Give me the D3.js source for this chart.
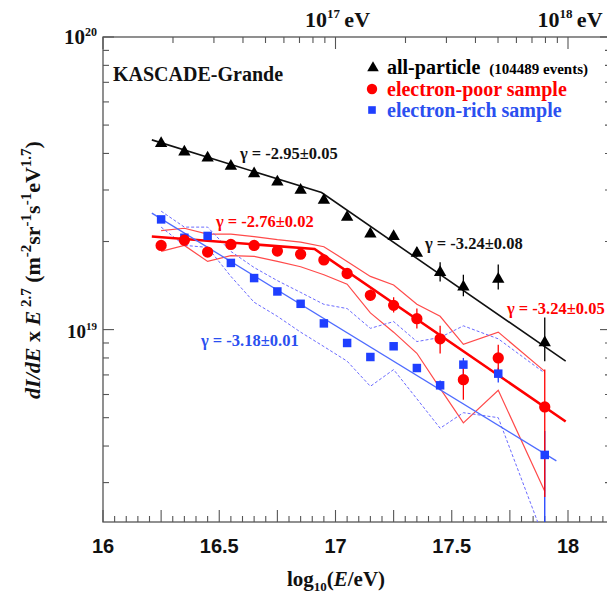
<!DOCTYPE html>
<html><head><meta charset="utf-8">
<script src="https://cdn.jsdelivr.net/npm/d3@7"></script>
<style>body{margin:0;background:#fff;overflow:hidden}</style>
</head><body>
<script>
// ---------------- data ----------------
const energyBins = [16.25,16.35,16.45,16.55,16.65,16.75,16.85,16.95,17.05,17.15,17.25,17.35,17.45,17.55,17.7,17.9];

const allParticle = [4.36e19,4.08e19,3.89e19,3.65e19,3.44e19,3.22e19,3.02e19,2.79e19,2.44e19,2.14e19,2.10e19,1.84e19,1.58e19,1.41e19,1.50e19,9.1e18];
const allErrHigh  = [null,null,null,null,null,null,null,null,null,null,null,1.91e19,1.70e19,1.54e19,1.67e19,1.10e19];
const allErrLow   = [null,null,null,null,null,null,null,null,null,null,null,1.77e19,1.46e19,1.30e19,1.37e19,7.8e18];

const electronPoor = [1.94e19,2.02e19,1.84e19,1.955e19,1.94e19,1.855e19,1.81e19,1.73e19,1.555e19,1.31e19,1.21e19,1.09e19,9.3e18,6.74e18,8.0e18,5.44e18];
const poorErrHigh  = [null,null,null,null,null,null,null,null,null,1.37e19,1.29e19,1.18e19,1.03e19,7.71e18,8.88e18,7.3e18];
const poorErrLow   = [null,null,null,null,null,null,null,null,null,1.257e19,1.144e19,1.008e19,8.28e18,5.76e18,7.18e18,2.68e18];
const poorBandHigh = [2.18e19,2.22e19,2.12e19,2.12e19,2.08e19,2.03e19,1.99e19,1.92e19,1.71e19,1.52e19,1.42e19,1.22e19,1.11e19,8.9e18,9.8e18,7.2e18];
const poorBandLow  = [1.85e19,1.94e19,1.71e19,1.79e19,1.78e19,1.71e19,1.64e19,1.54e19,1.43e19,1.14e19,9.8e18,8.3e18,6.3e18,4.8e18,6.2e18,2.8e18];

const electronRich = [2.38e19,2.06e19,2.09e19,1.69e19,1.50e19,1.35e19,1.225e19,1.05e19,9.0e18,8.06e18,8.77e18,7.39e18,6.45e18,7.59e18,7.07e18,3.73e18];
const richErrHigh  = [null,null,null,null,null,null,null,null,null,null,null,null,6.7e18,8.0e18,7.4e18,4.5e18];
const richErrLow   = [null,null,null,null,null,null,null,null,null,null,null,null,6.2e18,6.9e18,6.6e18,2.0e18];
const richBandHigh = [2.54e19,2.24e19,2.24e19,1.85e19,1.63e19,1.47e19,1.34e19,1.22e19,1.18e19,1.01e19,1.065e19,9.1e18,9.4e18,1.03e19,9.3e18,7.1e18];
const richBandLow  = [2.24e19,1.94e19,1.91e19,1.52e19,1.24e19,1.11e19,9.8e18,8.75e18,7.8e18,6.4e18,7.3e18,5.8e18,4.6e18,5.2e18,5.0e18,1.9e18];

const allFitX  = [16.21,16.94,17.99];
const allFitY  = [4.45e19,2.94e19,7.8e18];
const poorFitX = [16.21,16.91,17.99];
const poorFitY = [2.08e19,1.885e19,4.85e18];
const richFitX = [16.21,17.95];
const richFitY = [2.50e19,3.56e18];

const xTickLabels = [16,16.5,17,17.5,18];
const topTickDecades = [17,18];
const yTickDecades = [19,20];

const legendLabels = ["all-particle","electron-poor sample","electron-rich sample"];
const legendExtra = "(104489 events)";
const gammaLabels = [
  {t:"γ = -2.95±0.05", c:"black"},
  {t:"γ = -2.76±0.02", c:"red"},
  {t:"γ = -3.24±0.08", c:"black"},
  {t:"γ = -3.24±0.05", c:"red"},
  {t:"γ = -3.18±0.01", c:"blue"}
];

// ---------------- drawing ----------------
const W = 607, H = 606;
const COL = {black:"#000000", red:"#ff0000", blue:"#1f3fff", blueText:"#2b4ff0", blueLine:"#4f6cff", blueDash:"#6a6aff", redBand:"#ff4a4a", frame:"#555555"};
const SERIF = "'Liberation Serif','Times New Roman',serif";
const SANS = "'Liberation Sans',Arial,Helvetica,sans-serif";

const svg = d3.select("body").append("svg").attr("width", W).attr("height", H);

const pL = 103, pR = 611, pT = 37, pB = 522;
const x = d3.scaleLinear().domain([16,18]).range([103,568]);
const y = d3.scaleLog().domain([2.2e18,1e20]).range([pB, pT]);

svg.append("defs").append("clipPath").attr("id","plot")
  .append("rect").attr("x",pL).attr("y",pT).attr("width",pR-pL).attr("height",pB-pT);

// frame
const fr = svg.append("g").attr("stroke",COL.frame).attr("stroke-width",1.3).attr("fill","none");
fr.append("rect").attr("x",pL).attr("y",pT).attr("width",pR-pL).attr("height",pB-pT);

// bottom linear ticks
const ticksG = svg.append("g").attr("stroke",COL.frame).attr("stroke-width",1.1);
const xMax = x.invert(pR);
for (let i = 0; 16 + i*0.05 <= xMax + 1e-9; i++) {
  const v = 16 + i*0.05;
  const isMajor = Math.abs((v*4) - Math.round(v*4)) < 1e-6;
  const len = isMajor ? 12 : 6;
  ticksG.append("line").attr("x1",x(v)).attr("x2",x(v)).attr("y1",pB).attr("y2",pB-len);
}
// top log-energy ticks
for (let d = 16; d <= 18; d++) {
  for (let k = 1; k <= 9; k++) {
    const lv = d + Math.log10(k);
    if (lv > xMax) continue;
    const len = k === 1 ? 12 : 6;
    ticksG.append("line").attr("x1",x(lv)).attr("x2",x(lv)).attr("y1",pT).attr("y2",pT+len);
  }
}
// y log ticks left & right
for (let d = 18; d <= 20; d++) {
  for (let k = 1; k <= 9; k++) {
    const v = k * Math.pow(10,d);
    if (v < 2.2e18 || v > 1e20) continue;
    const len = k === 1 ? 11 : 6;
    ticksG.append("line").attr("x1",pL).attr("x2",pL+len).attr("y1",y(v)).attr("y2",y(v));
    ticksG.append("line").attr("x1",pR).attr("x2",pR-len).attr("y1",y(v)).attr("y2",y(v));
  }
}

// tick labels
svg.append("g").selectAll("text").data(xTickLabels).join("text")
  .attr("x",d=>x(d)).attr("y",553).attr("text-anchor","middle")
  .attr("font-family",SANS).attr("font-weight","bold").attr("font-size",20).attr("fill","#111")
  .text(d=>d);

function powerLabel(g, xPos, yPos, exp, anchor, size, supSize, suffix){
  const t = g.append("text").attr("x",xPos).attr("y",yPos).attr("text-anchor",anchor)
    .attr("font-family",SERIF).attr("font-weight","bold").attr("font-size",size).attr("fill","#111");
  t.append("tspan").text("10");
  t.append("tspan").attr("font-size",supSize).attr("dy",-size*0.4).text(exp);
  if (suffix) t.append("tspan").attr("dy",size*0.4).text(suffix);
  return t;
}
const lab = svg.append("g");
topTickDecades.forEach(d => powerLabel(lab, x(d)+2, 27, String(d), "middle", 22, 13, "\u2009eV"));
powerLabel(lab, 97, 44, String(yTickDecades[1]), "end", 21, 12, null);
powerLabel(lab, 97, 338, String(yTickDecades[0]), "end", 19, 11, null);

// axis titles
const xt = svg.append("text").attr("x",336).attr("y",586).attr("text-anchor","middle")
  .attr("font-family",SERIF).attr("font-weight","bold").attr("font-size",21).attr("fill","#111");
xt.append("tspan").text("log");
xt.append("tspan").attr("font-size",13).attr("dy",5).text("10");
xt.append("tspan").attr("dy",-5).text("(");
xt.append("tspan").attr("font-style","italic").text("E");
xt.append("tspan").text("/eV)");

const yt = svg.append("text").attr("transform","translate(40,270) rotate(-90)").attr("text-anchor","middle")
  .attr("font-family",SERIF).attr("font-weight","bold").attr("font-size",22).attr("fill","#111");
const ytParts = [
  {t:"dI/dE",i:1},{t:" x  "},{t:"E",i:1},{t:" 2.7",s:1},{t:" (m"},{t:"-2",s:1},{t:"sr"},{t:"-1",s:1},{t:"s"},{t:"-1",s:1},{t:"eV"},{t:"1.7",s:1},{t:")"}
];
let prevSup = false;
ytParts.forEach(p => {
  const ts = yt.append("tspan").text(p.t);
  if (p.i) ts.attr("font-style","italic");
  if (p.s) { ts.attr("font-size",15); if (!prevSup) ts.attr("dy",-9); }
  else if (prevSup) ts.attr("dy",9);
  prevSup = !!p.s;
});

// ---------------- plot content ----------------
const pg = svg.append("g").attr("clip-path","url(#plot)");
const lineGen = d3.line().x(d=>x(d[0])).y(d=>y(d[1]));

// bands
pg.append("path").datum(energyBins.map((e,i)=>[e,poorBandHigh[i]])).attr("d",lineGen)
  .attr("fill","none").attr("stroke",COL.redBand).attr("stroke-width",1.2);
pg.append("path").datum(energyBins.map((e,i)=>[e,poorBandLow[i]])).attr("d",lineGen)
  .attr("fill","none").attr("stroke",COL.redBand).attr("stroke-width",1.2);
pg.append("path").datum(energyBins.map((e,i)=>[e,richBandHigh[i]])).attr("d",lineGen)
  .attr("fill","none").attr("stroke",COL.blueDash).attr("stroke-width",1).attr("stroke-dasharray","3,2");
pg.append("path").datum(energyBins.map((e,i)=>[e,richBandLow[i]])).attr("d",lineGen)
  .attr("fill","none").attr("stroke",COL.blueDash).attr("stroke-width",1).attr("stroke-dasharray","3,2");

// fits
pg.append("path").datum(allFitX.map((e,i)=>[e,allFitY[i]])).attr("d",lineGen)
  .attr("fill","none").attr("stroke","#111").attr("stroke-width",1.6);
pg.append("path").datum(poorFitX.map((e,i)=>[e,poorFitY[i]])).attr("d",lineGen)
  .attr("fill","none").attr("stroke",COL.red).attr("stroke-width",2.6);
pg.append("path").datum(richFitX.map((e,i)=>[e,richFitY[i]])).attr("d",lineGen)
  .attr("fill","none").attr("stroke",COL.blueLine).attr("stroke-width",1.3);

// error bars
function errBars(hi, lo, col){
  pg.append("g").selectAll("line").data(energyBins.map((e,i)=>({e,h:hi[i],l:lo[i]})).filter(d=>d.h!==null))
    .join("line").attr("x1",d=>x(d.e)).attr("x2",d=>x(d.e)).attr("y1",d=>y(d.h)).attr("y2",d=>y(d.l))
    .attr("stroke",col).attr("stroke-width",1.3);
}
errBars(richErrHigh, richErrLow, COL.blue);
errBars(poorErrHigh, poorErrLow, COL.red);
errBars(allErrHigh, allErrLow, "#000");

// markers
const sym = {
  tri: d3.symbol().type(d3.symbolTriangle).size(66),
  circ: d3.symbol().type(d3.symbolCircle).size(100),
  sq: d3.symbol().type(d3.symbolSquare).size(72)
};
pg.append("g").selectAll("path").data(energyBins.map((e,i)=>[e,electronRich[i]])).join("path")
  .attr("d",sym.sq).attr("transform",d=>`translate(${x(d[0])},${y(d[1])})`).attr("fill",COL.blue);
pg.append("g").selectAll("path").data(energyBins.map((e,i)=>[e,electronPoor[i]])).join("path")
  .attr("d",sym.circ).attr("transform",d=>`translate(${x(d[0])},${y(d[1])})`).attr("fill",COL.red);
pg.append("g").selectAll("path").data(energyBins.map((e,i)=>[e,allParticle[i]])).join("path")
  .attr("d",sym.tri).attr("transform",d=>`translate(${x(d[0])},${y(d[1])+1})`).attr("fill","#000");

// annotations
svg.append("text").attr("x",113).attr("y",81).attr("font-family",SERIF).attr("font-weight","bold")
  .attr("font-size",20).attr("fill","#111").text("KASCADE-Grande");

const legY = [67, 89, 110];
const legCol = ["#000", COL.red, COL.blueText];
const lg = svg.append("g");
lg.append("path").attr("d",d3.symbol().type(d3.symbolTriangle).size(58)).attr("transform",`translate(373,${legY[0]+1})`).attr("fill","#000");
lg.append("path").attr("d",d3.symbol().type(d3.symbolCircle).size(85)).attr("transform",`translate(372,${legY[1]})`).attr("fill",COL.red);
lg.append("path").attr("d",d3.symbol().type(d3.symbolSquare).size(58)).attr("transform",`translate(372,${legY[2]})`).attr("fill",COL.blue);
legendLabels.forEach((t,i)=>{
  const tx = lg.append("text").attr("x",387).attr("y",legY[i]+7).attr("font-family",SERIF).attr("font-weight","bold")
    .attr("font-size",20).attr("fill",legCol[i]).text(t);
  if (i===0) tx.append("tspan").attr("font-size",15).attr("dx",9).text(legendExtra);
});

const gammaPos = [[240,159],[216,227],[425,249],[507,314],[201,346]];
const gCol = {black:"#111", red:COL.red, blue:COL.blueText};
svg.append("g").selectAll("text").data(gammaLabels).join("text")
  .attr("x",(d,i)=>gammaPos[i][0]).attr("y",(d,i)=>gammaPos[i][1])
  .attr("font-family",SERIF).attr("font-weight","bold").attr("font-size",16.5)
  .attr("fill",d=>gCol[d.c]).text(d=>d.t);
</script>
</body></html>
